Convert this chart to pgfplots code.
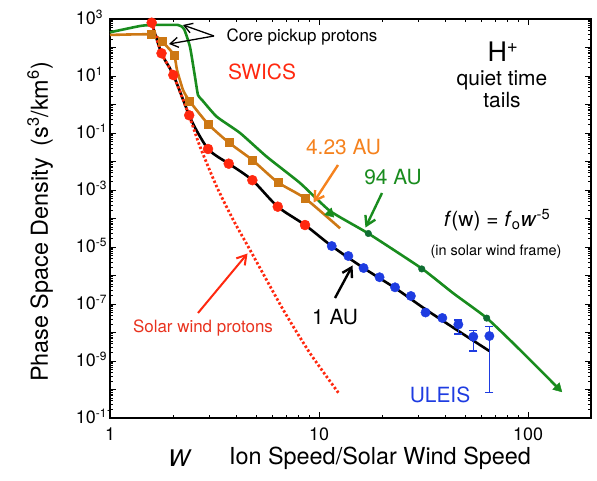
\documentclass[border=0pt]{standalone}
\usepackage{fontspec}
\setmainfont{TeX Gyre Heros}
\usepackage{pgfplots}
\pgfplotsset{compat=1.18}
\usetikzlibrary{arrows.meta}
\definecolor{swred}{RGB}{255,40,15}
\definecolor{swtext}{RGB}{232,50,30}
\definecolor{orline}{RGB}{205,120,20}
\definecolor{ortext}{RGB}{245,130,30}
\definecolor{grline}{RGB}{25,140,30}
\definecolor{grdot}{RGB}{15,110,50}
\definecolor{ulblue}{RGB}{30,60,225}
\newcommand\fs[1]{\fontsize{#1}{#1}\selectfont}
\newcommand\tl[1]{10\rlap{\raisebox{6bp}{\fs{12}#1}}}
\begin{document}
\begin{tikzpicture}[x=1bp,y=1bp]
\begin{axis}[
 at={(0,0)}, anchor=south west,
 scale only axis, width=481bp, height=399bp,
 xmode=log, ymode=log,
 xmin=1, xmax=200, ymin=1e-11, ymax=1e3,
 xtick={1,10,100}, xticklabels={1,10,100},
 minor xtick={2,3,4,5,6,7,8,9,20,30,40,50,60,70,80,90},
 ytick={1e-11,1e-10,1e-9,1e-8,1e-7,1e-6,1e-5,1e-4,1e-3,1e-2,1e-1,1,10,100,1000},
 yticklabels={\tl{-11},,\tl{-9},,\tl{-7},,\tl{-5},,\tl{-3},,\tl{-1},,\tl{1},,\tl{3}},
 minor ytick={2e-11,3e-11,4e-11,5e-11,6e-11,7e-11,8e-11,9e-11,
  2e-10,3e-10,4e-10,5e-10,6e-10,7e-10,8e-10,9e-10,
  2e-9,3e-9,4e-9,5e-9,6e-9,7e-9,8e-9,9e-9,
  2e-8,3e-8,4e-8,5e-8,6e-8,7e-8,8e-8,9e-8,
  2e-7,3e-7,4e-7,5e-7,6e-7,7e-7,8e-7,9e-7,
  2e-6,3e-6,4e-6,5e-6,6e-6,7e-6,8e-6,9e-6,
  2e-5,3e-5,4e-5,5e-5,6e-5,7e-5,8e-5,9e-5,
  2e-4,3e-4,4e-4,5e-4,6e-4,7e-4,8e-4,9e-4,
  2e-3,3e-3,4e-3,5e-3,6e-3,7e-3,8e-3,9e-3,
  2e-2,3e-2,4e-2,5e-2,6e-2,7e-2,8e-2,9e-2,
  0.2,0.3,0.4,0.5,0.6,0.7,0.8,0.9,
  2,3,4,5,6,7,8,9,
  20,30,40,50,60,70,80,90,
  200,300,400,500,600,700,800,900},
 tick align=inside,
 major tick length=6bp, minor tick length=3.5bp,
 every tick/.style={black, line width=0.7bp},
 axis line style={line width=1.2bp},
 tick label style={font=\fs{18}},
 xticklabel style={yshift=-6bp},
 yticklabel style={inner sep=0pt, xshift=-14bp, yshift=1.5bp},
 clip=false,
]
% 94 AU (green)
\addplot[grline, line width=2.6bp, line join=round, smooth, tension=0.3] coordinates {
 (1,341) (1.392,568) (1.587,616) (2.115,616) (2.26,446) (2.414,104)
 (2.551,9.2) (2.636,2.15) (2.756,1.44) (3.24,0.373) (4.19,0.1)
 (5.62,0.0147) (8.11,1.76e-3) (11.29,1.83e-4) (17.21,2.98e-5)
 (31.0,1.76e-6) (43.9,2.37e-7) (63.4,3.23e-8) (91.6,2.43e-9) (137.2,1.25e-10)};
\addplot[only marks, mark=*, mark size=3.3bp, color=grdot] coordinates {
 (17.21,2.98e-5) (31.0,1.7e-6) (63.4,3.2e-8)};
\addplot[only marks, mark=triangle*, mark size=5.5bp, color=grline, mark options={rotate=-135}] coordinates {
 (11.29,1.52e-4) (139,1.13e-10)};
% 4.23 AU (orange)
\addplot[orline, line width=2.6bp, line join=round, smooth, tension=0.35] coordinates {
 (1,275) (1.583,286) (1.773,162.6) (2.024,54.6) (2.092,16.3) (2.236,3.23)
 (2.401,1.327) (2.944,0.207) (3.698,0.0464) (4.797,0.0113) (6.345,0.00186)
 (8.57,5.12e-4) (12.61,4.53e-5)};
\addplot[only marks, mark=square*, mark size=4bp, color=orline] coordinates {
 (1.583,286) (1.773,162.6) (2.024,54.6) (2.401,1.327) (2.944,0.207)
 (3.698,0.0464) (4.797,0.0113) (6.345,0.00186) (8.57,5.12e-4)};
% 1 AU (black)
\addplot[black, line width=2.6bp, line join=round, smooth, tension=0.5] coordinates {
 (1.583,741) (1.764,62.6) (2.009,10.8) (2.393,0.418) (2.636,0.1)
 (2.944,0.0275) (3.288,0.0144) (3.698,0.0084) (4.797,0.0022)
 (6.345,2.6e-4) (8.57,5.9e-5) (11.5,1.08e-5) (16.33,1.83e-6)
 (23.1,3.64e-7) (32.15,6.68e-8) (46.4,1.13e-8) (65.3,2.24e-9)};
% solar wind protons (red dotted)
\addplot[swred, line width=2.8bp, dash pattern=on 2.4bp off 2.2bp, smooth, tension=0.4] coordinates {
 (1.583,741) (1.764,62.6) (2.009,10.8) (2.387,0.42) (2.696,0.033)
 (3.24,1.31e-3) (3.89,8.86e-5) (4.677,7.86e-6) (6.75,6.15e-8)
 (9.06,1.86e-9) (12.37,7.73e-11)};
% SWICS points
\addplot[only marks, mark=*, mark size=5bp, color=swred] coordinates {
 (1.583,741) (1.764,62.6) (2.009,10.8) (2.393,0.418) (2.944,0.0275)
 (3.698,0.00838) (4.797,0.00221) (6.345,2.6e-4) (8.57,5.9e-5)};
% ULEIS error bars
\addplot[ulblue, line width=1.2bp] coordinates {(46.4,8.85e-9) (46.4,2.75e-8)};
\addplot[ulblue, line width=1.2bp] coordinates {(54.7,2.24e-9) (54.7,1.16e-8)};
\addplot[ulblue, line width=1.2bp] coordinates {(65.3,7.7e-11) (65.3,1.6e-8)};
\addplot[only marks, mark=-, mark size=4bp, color=ulblue, mark options={line width=1.2bp}] coordinates {
 (46.4,8.85e-9) (46.4,2.75e-8) (54.7,2.24e-9) (54.7,1.16e-8) (65.3,7.7e-11) (65.3,1.6e-8)};
% ULEIS points
\addplot[only marks, mark=*, mark size=4.7bp, color=ulblue] coordinates {
 (11.5,1.08e-5) (13.81,4.83e-6) (16.33,1.83e-6) (19.48,8.7e-7)
 (23.1,3.85e-7) (27.5,1.91e-7) (32.32,5.03e-8) (38.9,3.23e-8)
 (46.4,1.91e-8) (54.7,7.13e-9) (65.3,7.53e-9)};
\end{axis}
% annotations (bp, origin at lower-left of axis box)
\node[anchor=west, font=\fs{17}] at (113,381) {Core pickup protons};
\draw[line width=1.3bp, -{Straight Barb[length=8bp,width=10bp,line width=1.3bp]}] (104,382) -- (73,393);
\draw[line width=1.3bp, -{Straight Barb[length=8bp,width=10bp,line width=1.3bp]}] (104,382) -- (59,374);
\node[font=\fs{21}, text=swred] at (152,346) {SWICS};
\node[font=\fs{27}] at (393,366) {H\textsuperscript{+}};
\node[font=\fs{21}] at (392,338) {quiet time};
\node[font=\fs{21}] at (392,318) {tails};
\node[font=\fs{21}, text=ortext] at (233.5,271) {4.23 AU};
\draw[ortext, line width=2.4bp, -{Straight Barb[length=9bp,width=11bp,line width=2.4bp]}] (228,253) -- (203.5,215.5);
\node[font=\fs{21}, text=grline] at (283,241) {94 AU};
\draw[grline, line width=2.4bp, -{Straight Barb[length=9bp,width=11bp,line width=2.4bp]}] (272,225) -- (255.5,190.5);
\node[font=\fs{21}] at (387,198) {\textit{f}(w) = \textit{f}\textsubscript{o}\textit{w}\textsuperscript{-5}};
\node[font=\fs{14.5}] at (386,166) {(in solar wind frame)};
\node[font=\fs{21}] at (225,101) {1 AU};
\draw[black, line width=2.4bp, -{Straight Barb[length=9bp,width=11bp,line width=2.4bp]}] (225,120) -- (242.5,152.5);
\node[font=\fs{21}, text=ulblue] at (330,23) {ULEIS};
\node[font=\fs{17}, text=swtext] at (93,90) {Solar wind protons};
\draw[swred, line width=2bp, -{Straight Barb[length=9bp,width=11bp,line width=2bp]}] (88,105) -- (137.5,164.5);
\node[font=\fs{23}\itshape] at (69,-40) {W};
\node[font=\fs{23.5}] at (270,-40) {Ion Speed/Solar Wind Speed};
\node[font=\fs{23.5}, rotate=90] at (-70,196) {Phase Space Density\enspace(s\textsuperscript{3}/km\textsuperscript{6})};
\pgfresetboundingbox
\path (-110,-63) rectangle (487,418);
\end{tikzpicture}
\end{document}
